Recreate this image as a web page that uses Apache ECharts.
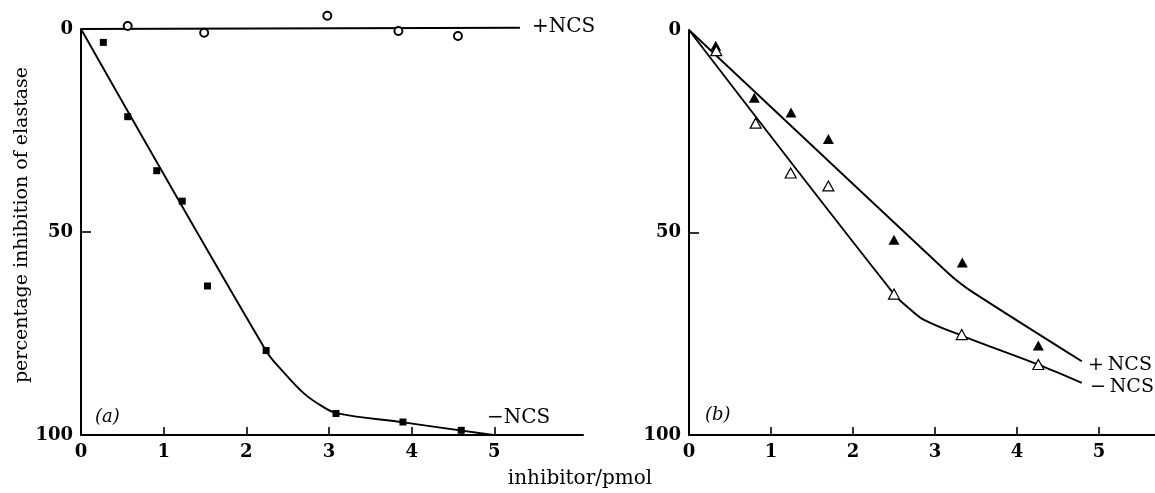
<!DOCTYPE html>
<html style="height: 100%">
<head>
<meta charset="utf-8">
</head>
<body style="height: 100%; margin: 0; background: #fff">
<div id="container" style="width: 1155px; height: 493px"></div>
<script type="text/javascript" src="https://cdn.jsdelivr.net/npm/echarts@6/dist/echarts.min.js"></script>
<script type="text/javascript">
// panel (a): inhibitor (pmol) vs percentage inhibition
var xMinusA = [0.27, 0.565, 0.916, 1.225, 1.53, 2.24, 3.085, 3.895, 4.60];
var yMinusA = [3.3, 21.6, 34.9, 42.4, 63.3, 79.2, 94.7, 96.8, 98.85];
var xPlusA = [0.565, 1.49, 2.98, 3.84, 4.56];
var yPlusA = [-0.74, 0.91, -3.28, 0.49, 1.72];
// fitted curves (a)
var fitMinusAx = [0, 2.24, 2.45, 2.7, 2.9, 3.085, 3.9, 4.99];
var fitMinusAy = [0, 79.3, 84.5, 89.8, 92.7, 94.6, 96.9, 100];
var fitPlusAx = [0, 5.31];
var fitPlusAy = [0, -0.3];

// panel (b)
var xPlusB = [0.326, 0.796, 1.244, 1.70, 2.50, 3.333, 4.26];
var yPlusB = [3.9, 16.7, 20.4, 26.9, 51.8, 57.4, 77.9];
var xMinusB = [0.333, 0.813, 1.24, 1.70, 2.50, 3.326, 4.26];
var yMinusB = [5.1, 23.0, 35.3, 38.5, 65.2, 75.2, 82.6];
var fitPlusBx = [0, 3.1, 3.25, 3.45, 4.79];
var fitPlusBy = [0, 58.9, 61.6, 64.6, 81.8];
var fitMinusBx = [0, 2.5, 2.7, 2.86, 3.33, 4.26, 4.79];
var fitMinusBy = [0, 65.2, 69.0, 71.5, 75.5, 82.6, 87.1];

var xTickLabels = [0, 1, 2, 3, 4, 5];
var yTickLabels = [0, 50, 100];

function pairs(xs, ys) {
    return xs.map(function (x, i) { return [x, ys[i]]; });
}

var serif = '"DejaVu Serif", serif';
var ink = '#000';

function xAxisFor(gridIndex, max) {
    return {
        gridIndex: gridIndex,
        type: 'value',
        min: 0,
        max: max,
        interval: 1,
        position: 'bottom',
        axisLine: { onZero: false, lineStyle: { color: ink, width: 2 } },
        axisTick: { inside: true, length: 8, customValues: [1, 2, 3, 4, 5], lineStyle: { color: ink, width: 1.6 } },
        axisLabel: { customValues: xTickLabels, color: ink, fontFamily: serif, fontWeight: 'bold', fontSize: 18, margin: 8 },
        splitLine: { show: false }
    };
}

function yAxisFor(gridIndex) {
    return {
        gridIndex: gridIndex,
        type: 'value',
        inverse: true,
        min: 0,
        max: 100,
        interval: 50,
        axisLine: { onZero: false, lineStyle: { color: ink, width: 2 } },
        axisTick: { inside: true, length: 10, customValues: [50], lineStyle: { color: ink, width: 1.6 } },
        axisLabel: { customValues: yTickLabels, color: ink, fontFamily: serif, fontWeight: 'bold', fontSize: 18, margin: 8 },
        splitLine: { show: false }
    };
}

function fitLine(data, xi) {
    return {
        type: 'line', xAxisIndex: xi, yAxisIndex: xi, data: data,
        showSymbol: false, smooth: 0.35, silent: true, clip: false,
        lineStyle: { color: ink, width: 1.9 }, z: 2
    };
}

function dots(data, xi, symbol, size, style) {
    return {
        type: 'scatter', xAxisIndex: xi, yAxisIndex: xi, data: data, clip: false,
        symbol: symbol, symbolSize: size, itemStyle: style, z: 3
    };
}

function txt(text, x, y, size, extra) {
    extra = extra || {};
    return {
        type: 'text', x: x, y: y, rotation: extra.rot || 0, z: 10,
        style: {
            text: text,
            font: (extra.italic ? 'italic ' : '') + size + 'px ' + serif,
            fill: ink,
            textAlign: extra.align || 'left',
            textVerticalAlign: 'middle'
        }
    };
}

var dom = document.getElementById("container");
var myChart = echarts.init(dom);

var option = {
    animation: false,
    backgroundColor: '#fff',
    grid: [
        { left: 81, top: 29, width: 502, height: 406 },
        { left: 689, top: 30, width: 466, height: 405 }
    ],
    xAxis: [xAxisFor(0, 502 / 82.66), xAxisFor(1, 466 / 82)],
    yAxis: [yAxisFor(0), yAxisFor(1)],
    series: [
        fitLine(pairs(fitMinusAx, fitMinusAy), 0),
        fitLine(pairs(fitPlusAx, fitPlusAy), 0),
        dots(pairs(xMinusA, yMinusA), 0, 'rect', 7, { color: ink, opacity: 1 }),
        dots(pairs(xPlusA, yPlusA), 0, 'circle', 8, { color: '#fff', borderColor: ink, borderWidth: 1.9, opacity: 1 }),
        fitLine(pairs(fitPlusBx, fitPlusBy), 1),
        fitLine(pairs(fitMinusBx, fitMinusBy), 1),
        dots(pairs(xPlusB, yPlusB), 1, 'triangle', [11, 10], { color: ink, opacity: 1 }),
        dots(pairs(xMinusB, yMinusB), 1, 'triangle', [11, 10], { color: '#fff', borderColor: ink, borderWidth: 1.2, opacity: 1 })
    ],
    graphic: [
        txt('percentage inhibition of elastase', 22, 225, 19, { align: 'center', rot: Math.PI / 2 }),
        txt('inhibitor/pmol', 580, 479, 20, { align: 'center' }),
        txt('+NCS', 532, 27, 20),
        txt('\u2212NCS', 487, 418, 20),
        txt('(a)', 95, 417, 18, { italic: true }),
        txt('(b)', 705, 415, 18, { italic: true }),
        txt('+\u2009NCS', 1088, 365, 19),
        txt('\u2212\u2009NCS', 1090, 387, 19)
    ]
};

myChart.setOption(option, true);
</script>
</body>
</html>
